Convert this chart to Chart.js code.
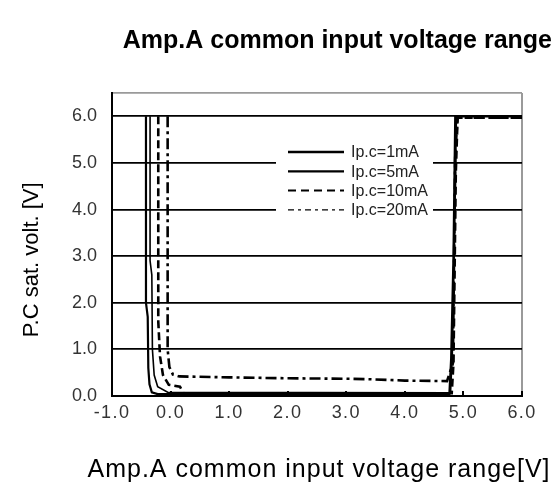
<!DOCTYPE html>
<html>
<head>
<meta charset="utf-8">
<script src="https://cdn.jsdelivr.net/npm/chart.js@4.4.0/dist/chart.umd.min.js"></script>
<style>
  body { margin: 0; background: #fff; }
  canvas { display: block; }
</style>
</head>
<body>
<canvas id="sat-volt" width="560" height="488"></canvas>
<script>
// tick values of both axes
const xTicks = [-1, 0, 1, 2, 3, 4, 5, 6];
const yTicks = [0, 1, 2, 3, 4, 5, 6];

const seriesNames = ['Ip.c=1mA', 'Ip.c=5mA', 'Ip.c=10mA', 'Ip.c=20mA'];
const xTitle = 'Amp.A common input voltage range[V]';

const inV1 = [-0.42, -0.42, -0.39, -0.38, -0.36, -0.32, -0.22, 4.76, 4.79, 4.83, 4.86, 6.0];
const satV1 = [6.0, 2.0, 1.7, 0.6, 0.25, 0.08, 0.04, 0.04, 0.8, 3.0, 6.0, 6.0];

const inV2 = [-0.35, -0.35, -0.32, -0.31, -0.28, -0.22, -0.05, 4.78, 4.81, 4.85, 4.88, 6.0];
const satV2 = [6.0, 2.9, 2.6, 1.0, 0.45, 0.2, 0.08, 0.07, 0.9, 3.5, 6.0, 6.0];

const inV3 = [-0.21, -0.21, -0.18, -0.13, -0.03, 0.16, 0.22, 4.8, 4.83, 4.87, 4.9, 6.0];
const satV3 = [6.0, 1.6, 0.85, 0.45, 0.24, 0.2, 0.06, 0.06, 0.7, 4.8, 5.97, 5.97];

const inV4 = [-0.05, -0.05, -0.02, 0.04, 0.15, 1.0, 2.0, 3.0, 3.4, 4.0, 4.72, 4.82, 4.86, 4.9, 6.0];
const satV4 = [6.0, 1.0, 0.62, 0.46, 0.42, 0.4, 0.38, 0.37, 0.36, 0.33, 0.32, 0.7, 5.2, 5.97, 5.97];

function pairs(xs, ys) {
    return xs.map((x, i) => ({ x: x, y: ys[i] }));
}

// dash patterns / widths per curve
const lineStyles = [
    { width: 2.2, dash: [] },
    { width: 1.6, dash: [] },
    { width: 2.6, dash: [8, 4] },
    { width: 2.6, dash: [11, 4, 3, 4] }
];
const legendStyles = [
    { width: 2.4, dash: [] },
    { width: 2.2, dash: [] },
    { width: 2, dash: [8, 5] },
    { width: 1.3, dash: [6, 4, 3, 4] }
];

const allX = [inV1, inV2, inV3, inV4];
const allY = [satV1, satV2, satV3, satV4];

const datasets = seriesNames.map((name, i) => ({
    label: name,
    data: pairs(allX[i], allY[i]),
    borderColor: '#000',
    borderWidth: lineStyles[i].width,
    borderDash: lineStyles[i].dash,
    pointRadius: 0,
    tension: 0,
    fill: false
}));

// legend sits inside the plot on a white box;
// x tick labels are drawn after it with wider letter spacing,
// the x title is wider than the plot so it is written here too
const boxLegend = {
    id: 'boxLegend',
    afterDatasetsDraw(chart) {
        const c = chart.ctx;
        c.save();
        c.fillStyle = '#fff';
        c.fillRect(276, 140, 157, 86);
        c.font = '16px "Liberation Sans", Arial, sans-serif';
        c.fillStyle = '#222';
        c.textBaseline = 'middle';
        seriesNames.forEach((name, i) => {
            const y = 152 + i * 19.3;
            c.beginPath();
            c.lineWidth = legendStyles[i].width;
            c.setLineDash(legendStyles[i].dash);
            c.strokeStyle = '#000';
            c.moveTo(288, y);
            c.lineTo(344, y);
            c.stroke();
            c.fillText(name, 351, y + 1);
        });
        c.restore();
        c.letterSpacing = '1.4px';
    },
    afterDraw(chart) {
        const c = chart.ctx;
        const area = chart.chartArea;
        c.save();
        c.letterSpacing = '1px';
        c.font = '25px "Liberation Sans", Arial, sans-serif';
        c.fillStyle = '#000';
        c.textAlign = 'center';
        c.textBaseline = 'middle';
        c.fillText(xTitle, (area.left + area.right) / 2 + 2, 470);
        c.restore();
        c.letterSpacing = '0px';
    }
};

const ctx = document.getElementById('sat-volt');

new Chart(ctx, {
    type: 'line',
    data: { datasets: datasets },
    options: {
        responsive: false,
        animation: false,
        devicePixelRatio: 1,
        layout: { padding: { left: 0, right: 8, top: 0, bottom: 0 } },
        plugins: {
            legend: { display: false },
            tooltip: { enabled: false },
            title: {
                display: true,
                text: 'Amp.A common input voltage range',
                align: 'end',
                color: '#000',
                font: { family: '"Liberation Sans", Arial, sans-serif', size: 25, weight: 'bold' },
                padding: { top: 26, bottom: 37 }
            }
        },
        scales: {
            x: {
                type: 'linear',
                min: -1,
                max: 6,
                afterFit: (scale) => { scale.height = 92; },
                afterBuildTicks: (scale) => { scale.ticks = xTicks.map(v => ({ value: v })); },
                ticks: {
                    z: 1,
                    color: '#333',
                    padding: 11,
                    font: { family: '"Liberation Sans", Arial, sans-serif', size: 18 },
                    callback: (v) => Number(v).toFixed(1)
                },
                grid: {
                    color: (c) => c.tick && c.tick.value === 6 ? '#9a9a9a' : 'rgba(0,0,0,0)',
                    lineWidth: 2,
                    drawTicks: true,
                    tickLength: -5,
                    tickColor: '#000',
                    tickWidth: 2
                },
                border: { color: '#000', width: 2 },
                title: { display: false }
            },
            y: {
                type: 'linear',
                min: 0,
                max: 6.5,
                afterFit: (scale) => { scale.width = 112; },
                afterBuildTicks: (scale) => {
                    scale.ticks = yTicks.map(v => ({ value: v })).concat([{ value: 6.5 }]);
                },
                ticks: {
                    color: '#333',
                    padding: 15,
                    font: { family: '"Liberation Sans", Arial, sans-serif', size: 18 },
                    callback: (v) => v === 6.5 ? '' : Number(v).toFixed(1)
                },
                grid: {
                    color: (c) => c.tick && c.tick.value === 6.5 ? '#9a9a9a' : '#000',
                    lineWidth: 1.8,
                    drawTicks: false
                },
                border: { color: '#000', width: 2 },
                title: {
                    display: true,
                    // trailing spaces push the words a little lower, as in the source
                    text: 'P.C sat. volt. [V]     ',
                    color: '#000',
                    font: { family: '"Liberation Sans", Arial, sans-serif', size: 22 },
                    padding: { top: 19, bottom: 19 }
                }
            },
            // empty axis only to hold the right margin
            yRight: {
                position: 'right',
                display: true,
                afterFit: (scale) => { scale.width = 30; },
                ticks: { display: false },
                grid: { display: false },
                border: { display: false }
            }
        }
    },
    plugins: [boxLegend]
});
</script>
</body>
</html>
